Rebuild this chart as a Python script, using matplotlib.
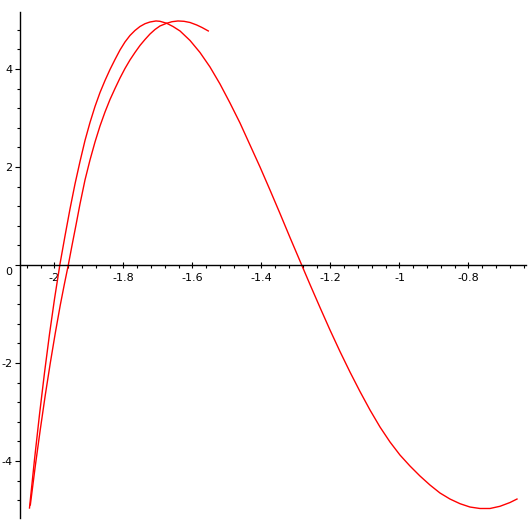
import matplotlib
matplotlib.use("Agg")
import matplotlib.pyplot as plt
from matplotlib.ticker import FixedLocator, MultipleLocator
from matplotlib.transforms import ScaledTranslation

# Curve 1 (long curve)
x1 = [-2.0725, -2.0580, -2.0435, -2.0290, -2.0145, -2.0000, -1.9841, -1.9696,
      -1.9551, -1.9406, -1.9261, -1.9116, -1.8971, -1.8826, -1.8681, -1.8536,
      -1.8391, -1.8246, -1.8101, -1.7957, -1.7812, -1.7667, -1.7522, -1.7377,
      -1.7232, -1.7058, -1.6942, -1.6748, -1.6565, -1.6362, -1.6072, -1.5783,
      -1.5493, -1.5203, -1.4913, -1.4623, -1.4333, -1.4043, -1.3754, -1.3464,
      -1.3174, -1.2835, -1.2594, -1.2304, -1.2014, -1.1725, -1.1435, -1.1145,
      -1.0855, -1.0565, -1.0275, -0.9986, -0.9696, -0.9406, -0.9116, -0.8826,
      -0.8536, -0.8246, -0.7957, -0.7667, -0.7377, -0.7087, -0.6797, -0.6594]
y1 = [-4.959, -3.971, -3.053, -2.200, -1.412, -0.694, 0.020, 0.592,
      1.143, 1.653, 2.112, 2.541, 2.908, 3.235, 3.520, 3.765,
      3.990, 4.194, 4.388, 4.551, 4.684, 4.786, 4.867, 4.924,
      4.959, 4.980, 4.973, 4.933, 4.867, 4.776, 4.582, 4.337,
      4.041, 3.694, 3.306, 2.898, 2.449, 2.000, 1.531, 1.051,
      0.561, 0.000, -0.398, -0.867, -1.327, -1.765, -2.184, -2.582,
      -2.959, -3.306, -3.612, -3.878, -4.102, -4.306, -4.490, -4.653,
      -4.776, -4.871, -4.939, -4.969, -4.969, -4.924, -4.847, -4.776]

# Curve 2 (short curve)
x2 = [-2.0701, -2.0557, -2.0412, -2.0267, -2.0122, -1.9977, -1.9832, -1.9716,
      -1.9600, -1.9493, -1.9377, -1.9261, -1.9116, -1.8971, -1.8826, -1.8681,
      -1.8536, -1.8391, -1.8246, -1.8101, -1.7957, -1.7812, -1.7667, -1.7522,
      -1.7377, -1.7232, -1.7087, -1.6942, -1.6748, -1.6594, -1.6420, -1.6246,
      -1.6072, -1.5878, -1.5725, -1.5542]
y2 = [-4.898, -4.102, -3.357, -2.653, -2.000, -1.388, -0.816, -0.398,
      0.000, 0.398, 0.816, 1.245, 1.735, 2.143, 2.510, 2.837,
      3.122, 3.378, 3.602, 3.816, 4.010, 4.184, 4.337, 4.480,
      4.602, 4.714, 4.806, 4.878, 4.933, 4.965, 4.980, 4.973,
      4.949, 4.898, 4.847, 4.776]

xticks = [-2.0, -1.8, -1.6, -1.4, -1.2, -1.0, -0.8]
xticklabels = ["-2", "-1.8", "-1.6", "-1.4", "-1.2", "-1", "-0.8"]
yticks = [-4, -2, 0, 2, 4]
yticklabels = ["-4", "-2", "0", "2", "4"]

plt.rcParams['font.family'] = ['DejaVu Sans']
plt.rcParams['axes.unicode_minus'] = False

fig = plt.figure(figsize=(5.3, 5.3), dpi=100)
ax = fig.add_axes([20 / 530, 12 / 530, 506 / 530, 506 / 530])

ax.plot(x1, y1, color='#ff0000', lw=1.0)
ax.plot(x2, y2, color='#ff0000', lw=1.0)

ax.set_xlim(-2.1, -0.6333)
ax.set_ylim(-5.163, 5.163)

for s in ['top', 'right']:
    ax.spines[s].set_visible(False)
ax.spines['bottom'].set_position(('data', 0))
ax.spines['left'].set_linewidth(1.0)
ax.spines['bottom'].set_linewidth(1.0)

ax.xaxis.set_major_locator(FixedLocator(xticks))
ax.set_xticklabels(xticklabels)
ax.xaxis.set_minor_locator(MultipleLocator(0.04))
ax.yaxis.set_major_locator(FixedLocator(yticks))
ax.set_yticklabels(yticklabels)
ax.yaxis.set_minor_locator(MultipleLocator(0.4))

ax.tick_params(axis='x', which='major', direction='inout', length=5, width=0.8,
               pad=3.5, labelsize=8)
ax.tick_params(axis='x', which='minor', direction='out', length=2.2, width=0.8)
ax.tick_params(axis='y', which='major', direction='out', length=3.8, width=0.8,
               pad=1.5, labelsize=8)
ax.tick_params(axis='y', which='minor', direction='out', length=2.3, width=0.8)

# Maple draws the "0" label slightly below the x axis
for t, lab in zip(ax.yaxis.get_major_ticks(), yticklabels):
    if lab == "0":
        t.label1.set_transform(t.label1.get_transform() +
                               ScaledTranslation(0, -6 / 100, fig.dpi_scale_trans))

fig.savefig("out.png", dpi=100)
